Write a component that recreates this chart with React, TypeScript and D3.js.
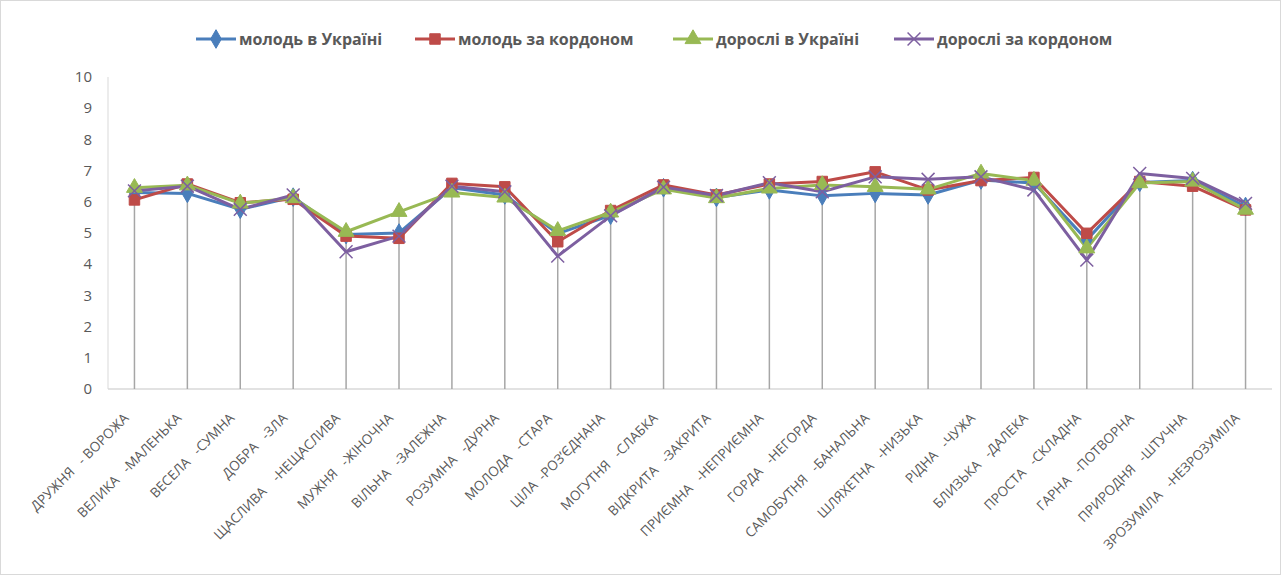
import React, { useEffect, useRef } from 'react';
import * as d3 from 'd3';

const categories = [
  'ДРУЖНЯ   - ВОРОЖА', 'ВЕЛИКА   -МАЛЕНЬКА', 'ВЕСЕЛА   -СУМНА', 'ДОБРА   -ЗЛА',
  'ЩАСЛИВА    -НЕЩАСЛИВА', 'МУЖНЯ   -ЖІНОЧНА', 'ВІЛЬНА   -ЗАЛЕЖНА', 'РОЗУМНА   -ДУРНА',
  'МОЛОДА   -СТАРА', 'ЦІЛА  -РОЗ’ЄДНАНА', 'МОГУТНЯ   -СЛАБКА', 'ВІДКРИТА   -ЗАКРИТА',
  'ПРИЄМНА   -НЕПРИЄМНА', 'ГОРДА   -НЕГОРДА', 'САМОБУТНЯ   -БАНАЛЬНА', 'ШЛЯХЕТНА   -НИЗЬКА',
  'РІДНА   -ЧУЖА', 'БЛИЗЬКА   -ДАЛЕКА', 'ПРОСТА   -СКЛАДНА', 'ГАРНА   -ПОТВОРНА',
  'ПРИРОДНЯ   -ШТУЧНА', 'ЗРОЗУМІЛА   -НЕЗРОЗУМІЛА',
];

const youthUa = [6.3, 6.27, 5.76, 6.15, 4.95, 5.0, 6.45, 6.22, 4.98, 5.57, 6.45, 6.14, 6.38, 6.19, 6.27, 6.22, 6.7, 6.6, 4.78, 6.62, 6.68, 5.85];
const youthAbroad = [6.06, 6.57, 5.97, 6.08, 4.9, 4.83, 6.59, 6.48, 4.72, 5.72, 6.54, 6.22, 6.57, 6.65, 6.96, 6.38, 6.68, 6.78, 4.99, 6.65, 6.5, 5.74];
const adultsUa = [6.45, 6.53, 5.95, 6.12, 5.04, 5.68, 6.3, 6.14, 5.07, 5.66, 6.4, 6.12, 6.43, 6.54, 6.48, 6.4, 6.91, 6.68, 4.51, 6.6, 6.65, 5.75];
const adultsAbroad = [6.35, 6.5, 5.76, 6.22, 4.4, 4.9, 6.5, 6.32, 4.26, 5.55, 6.47, 6.2, 6.61, 6.32, 6.8, 6.72, 6.8, 6.38, 4.13, 6.91, 6.75, 5.95];

const seriesNames = ['молодь в Україні', 'молодь за кордоном', 'дорослі в Україні', 'дорослі за кордоном'];
const yTicks = [0, 1, 2, 3, 4, 5, 6, 7, 8, 9, 10];

const colors = ['#4a7ebb', '#be4b48', '#98b954', '#7d5fa0'];
const symbols = [d3.symbolDiamond, d3.symbolSquare, d3.symbolTriangle, d3.symbolX];
const symSizes = [100, 110, 110, 110];

const App: React.FC = () => {
  const svgRef = useRef<SVGSVGElement>(null);
  const width = 1283;
  const height = 575;
  const margin = { top: 77, right: 11, bottom: 186, left: 108 };

  useEffect(() => {
    if (!svgRef.current) return;
    const svg = d3.select(svgRef.current);
    svg.selectAll('*').remove();

    const series = [youthUa, youthAbroad, adultsUa, adultsAbroad];
    const innerW = width - margin.left - margin.right;
    const innerH = height - margin.top - margin.bottom;

    svg.append('rect')
      .attr('x', 0.5).attr('y', 0.5)
      .attr('width', width - 3).attr('height', height - 1)
      .attr('fill', '#fff').attr('stroke', '#d9d9d9');

    const x = d3.scaleBand<string>().domain(categories).range([0, innerW]);
    const y = d3.scaleLinear().domain([0, 10]).range([innerH, 0]);
    const cx = (c: string) => (x(c) || 0) + x.bandwidth() / 2;

    const g = svg.append('g').attr('transform', `translate(${margin.left},${margin.top})`);

    // axis lines
    g.append('line').attr('x1', 0).attr('x2', 0).attr('y1', 0).attr('y2', innerH)
      .attr('stroke', '#d9d9d9').attr('stroke-width', 1);
    g.append('line').attr('x1', 0).attr('x2', innerW).attr('y1', innerH).attr('y2', innerH)
      .attr('stroke', '#d9d9d9').attr('stroke-width', 1.5);

    // y tick labels
    g.selectAll('.ytick').data(yTicks).enter().append('text')
      .attr('x', -16).attr('y', d => y(d)).attr('dy', '0.35em')
      .attr('text-anchor', 'end')
      .attr('font-family', 'Open Sans, sans-serif').attr('font-size', 15)
      .attr('fill', '#595959')
      .text(d => d);

    // drop lines
    g.selectAll('.drop').data(categories).enter().append('line')
      .attr('x1', d => cx(d)).attr('x2', d => cx(d))
      .attr('y1', (d, i) => y(d3.max(series, s => s[i]) || 0))
      .attr('y2', innerH)
      .attr('stroke', '#a6a6a6').attr('stroke-width', 1.5);

    // lines
    series.forEach((s, si) => {
      const line = d3.line<number>()
        .x((_, i) => cx(categories[i]))
        .y(d => y(d));
      g.append('path')
        .attr('d', line(s) || '')
        .attr('fill', 'none')
        .attr('stroke', colors[si])
        .attr('stroke-width', 3)
        .attr('stroke-linejoin', 'round');
    });
    // markers
    series.forEach((s, si) => {
      const sym = d3.symbol().type(symbols[si]).size(symSizes[si]);
      g.selectAll(`.m${si}`).data(s).enter().append('path')
        .attr('transform', (d, i) => `translate(${cx(categories[i])},${y(d)})`)
        .attr('d', sym() || '')
        .attr('fill', si === 3 ? 'none' : colors[si])
        .attr('stroke', colors[si])
        .attr('stroke-width', si === 3 ? 1.5 : 1);
    });

    // x labels (non-breaking spaces so the gaps survive)
    g.selectAll('.xlab').data(categories).enter().append('text')
      .attr('transform', d => `translate(${cx(d) - 5},${innerH + 30}) rotate(-45)`)
      .attr('text-anchor', 'end')
      .attr('font-family', 'Open Sans, sans-serif').attr('font-size', 13.5)
      .attr('fill', '#595959')
      .text(d => d.replace(/ /g, '\u00A0'));

    // legend
    const legendX = [196, 415, 673, 894];
    const lg = svg.append('g').attr('transform', 'translate(0,39)');
    seriesNames.forEach((name, si) => {
      const item = lg.append('g').attr('transform', `translate(${legendX[si]},0)`);
      item.append('line').attr('x1', 0).attr('x2', 40).attr('y1', 0).attr('y2', 0)
        .attr('stroke', colors[si]).attr('stroke-width', 3);
      item.append('path')
        .attr('transform', 'translate(20,0)')
        .attr('d', d3.symbol().type(symbols[si]).size(symSizes[si])() || '')
        .attr('fill', si === 3 ? 'none' : colors[si])
        .attr('stroke', colors[si]).attr('stroke-width', si === 3 ? 1.5 : 1);
      item.append('text')
        .attr('x', 43).attr('y', 0).attr('dy', '0.35em')
        .attr('font-family', 'Open Sans, sans-serif').attr('font-size', 16)
        .attr('font-weight', 'bold').attr('fill', '#595959')
        .text(name);
    });
  }, []);

  return (
    <div style={{ position: 'fixed', left: 0, top: 0, width, height, background: '#fff' }}>
      <svg ref={svgRef} width={width} height={height} style={{ display: 'block' }} />
    </div>
  );
};

export default App;
